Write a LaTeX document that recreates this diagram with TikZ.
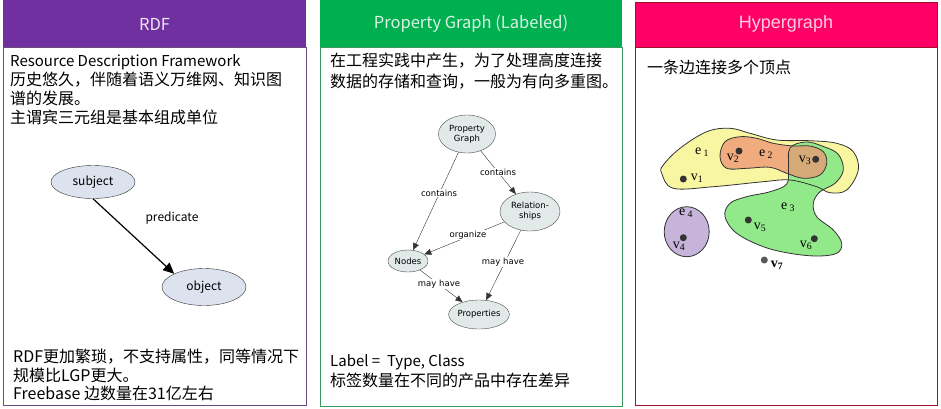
\documentclass[tikz,border=0pt]{standalone}
\usepackage{fontspec}
\setmainfont{Noto Sans CJK SC}
\newfontfamily\graphfont{DejaVu Sans}
\newfontfamily\timesfont{Liberation Serif}
\newfontfamily\arialfont{Liberation Sans}
\usetikzlibrary{shapes.geometric, arrows.meta, positioning}

\definecolor{rdfpurple}{HTML}{7030A0}
\definecolor{rdfborder}{HTML}{6A4C80}
\definecolor{lpggreen}{HTML}{00B050}
\definecolor{lpgborder}{HTML}{3A9A60}
\definecolor{hyppink}{HTML}{FF0066}
\definecolor{hypborder}{HTML}{A0102A}
\definecolor{ellfill}{HTML}{DCE3EF}
\definecolor{pgfill}{HTML}{E2E9E9}
\definecolor{eone}{HTML}{F9F6A2}
\definecolor{etwo}{HTML}{EE9474}
\definecolor{ethree}{HTML}{92E98A}
\definecolor{efour}{HTML}{C6B4DA}

\tikzset{
  body/.style={font=\fontsize{16}{19}\selectfont, anchor=base west, inner sep=0pt},
  title/.style={font=\fontsize{16.5}{20}\selectfont},
  rdfnode/.style={ellipse, draw=black!80, fill=ellfill, minimum width=84pt,
    minimum height=33pt, inner sep=0pt, font=\fontsize{12}{14}\selectfont},
  pgnode/.style={ellipse, draw=black!70, fill=pgfill, inner sep=0pt,
    font=\graphfont\fontsize{8.5}{10}\selectfont, align=center},
  pgedge/.style={draw=black!80, -{Triangle[length=7pt,width=6pt]}},
  pglabel/.style={fill=white, inner sep=0.5pt, font=\graphfont\fontsize{8.5}{10}\selectfont},
  hedge/.style={draw=black!80, line width=0.8pt},
  vdot/.style={circle, fill=black!80, inner sep=0pt, minimum size=7pt},
  hlabel/.style={font=\timesfont\fontsize{14}{15}\selectfont, inner sep=0pt}
}

\begin{document}
\begin{tikzpicture}[x=1pt, y=-1pt]
    \useasboundingbox (0,0) rectangle (941,408);

    % Panel frames
    \draw[rdfborder, line width=0.9pt] (3,47) rectangle (306,405);
    \fill[rdfpurple] (3,0) rectangle (306,47);
    \draw[lpgborder, line width=0.9pt] (320,47) rectangle (622,406);
    \fill[lpggreen] (320,0) rectangle (622,47);
    \draw[hypborder, line width=0.9pt] (635,47) rectangle (937,405);
    \filldraw[fill=hyppink, draw=hypborder, line width=0.9pt] (635,2) rectangle (937,47);

    % Titles
    \node[title, text=white!88!rdfpurple] (rdftitle) at (154.5,24) {RDF};
    \node[title, text=white!85!lpggreen] (lpgtitle) at (471,24) {Property Graph (Labeled)};
    \node[font=\arialfont\fontsize{18}{20}\selectfont, text=white!80!hyppink] (hyptitle) at (786,24) {Hypergraph};

    % RDF text
    \node[body, font=\fontsize{15}{18}\selectfont] (rdfa) at (10,66) {Resource Description Framework};
    \node[body] (rdfb) at (10,85.5) {历史悠久，伴随着语义万维网、知识图};
    \node[body] (rdfc) at (10,104.5) {谱的发展。};
    \node[body] (rdfd) at (10,123.5) {主谓宾三元组是基本组成单位};
    \node[body] (rdfe) at (13,362) {RDF更加繁琐，不支持属性，同等情况下};
    \node[body] (rdff) at (13,381) {规模比LGP更大。};
    \node[body] (rdfg) at (13,399.5) {Freebase 边数量在31亿左右};

    % RDF triple
    \node[rdfnode] (subject) at (93,182) {subject};
    \node[rdfnode, minimum height=37pt] (object) at (204,287) {object};
    \draw[-{Triangle[length=11pt,width=10pt]}, line width=1.2pt] (subject.south) -- (object.north west);
    \node[font=\fontsize{12}{14}\selectfont] (predicate) at (172,218) {predicate};

    % LPG text
    \node[body] (lpga) at (330,66.5) {在工程实践中产生，为了处理高度连接};
    \node[body] (lpgb) at (330,87.5) {数据的存储和查询，一般为有向多重图。};
    \node[body, font=\fontsize{15}{18}\selectfont] (lpgc) at (330,366.5) {Label =~ Type, Class};
    \node[body] (lpgd) at (330,386) {标签数量在不同的产品中存在差异};

    % Property graph schema
    \node[pgnode, minimum width=57pt, minimum height=38pt] (pg) at (467,134) {Property\\Graph};
    \node[pgnode, minimum width=60pt, minimum height=39pt] (rel) at (530,211.5) {Relation-\\ships};
    \node[pgnode, minimum width=40pt, minimum height=22pt] (nodes) at (408,261) {Nodes};
    \node[pgnode, minimum width=58pt, minimum height=29pt] (props) at (479,314.5) {Properties};

    \draw[pgedge] (pg) -- (nodes);
    \draw[pgedge] (pg) -- (rel);
    \draw[pgedge] (rel) -- (nodes);
    \draw[pgedge] (rel) -- (props);
    \draw[pgedge] (nodes) -- (props);

    \node[pglabel] (conta) at (439,193) {contains};
    \node[pglabel] (contb) at (498,172) {contains};
    \node[pglabel] (org) at (468,235) {organize};
    \node[pglabel] (mayrel) at (503,262) {may have};
    \node[pglabel] (maynode) at (439,284) {may have};

    % Hypergraph text
    \node[body] (hypa) at (647,73.5) {一条边连接多个顶点};

    % Hyperedges (fills first, outlines after)
    \def\eonepath{plot[smooth cycle, tension=0.6] coordinates {(661.7,173.3) (673.3,188.3) (713.3,186.7) (763.3,181.7) (790,180) (816.7,186.7) (830,192.7) (846.7,190) (858.3,170) (853.3,151.7) (836.7,143.3) (810,140.7) (776.7,140) (750,133.3) (730,128.3) (706.7,131.7) (680,148.3) (663.3,165)}}
    \def\ethreepath{plot[smooth cycle, tension=0.6] coordinates {(790,148) (806,142) (822,146) (838,154) (843.3,170) (835,183.3) (820,191.7) (813.3,203.3) (816.7,216.7) (833.3,230) (841.7,243.3) (836.7,253.3) (816.7,256) (790,253.3) (763.3,246.7) (736.7,233.3) (725,216.7) (730,203.3) (746.7,196.7) (770,191.7) (786.7,184) (788.5,168)}}
    \def\etwopath{plot[smooth cycle, tension=0.6] coordinates {(720,156.7) (725,141.7) (740,136.7) (756.7,138.3) (773.3,143.3) (793.3,146) (810,146) (823.3,151.7) (826.7,163.3) (820,175) (803.3,178.3) (786.7,173.3) (770,167.3) (746.7,168.3) (726.7,168.3)}}

    \fill[eone] \eonepath;
    \fill[ethree] \ethreepath;
    \fill[etwo, opacity=0.75] \etwopath;
    \draw[hedge] \eonepath;
    \draw[hedge] \ethreepath;
    \draw[hedge] \etwopath;
    \filldraw[fill=efour, hedge] (686.7,231.7) ellipse (22.5 and 25);

    % Vertices
    \node[vdot] (v1) at (683.3,179) {};
    \node[vdot] (v2) at (739,151) {};
    \node[vdot] (v3) at (815.7,159.3) {};
    \node[vdot] (v4) at (683.3,237.7) {};
    \node[vdot] (v5) at (748.3,220) {};
    \node[vdot] (v6) at (814.3,238.7) {};
    \node[vdot, fill=black!65] (v7) at (764.3,260) {};

    % Labels
    \node[hlabel] (le1) at (702,152) {e\,\textsubscript{1}};
    \node[hlabel] (le2) at (766,154) {e\,\textsubscript{2}};
    \node[hlabel] (le3) at (788,207) {e\,\textsubscript{3}};
    \node[hlabel] (le4) at (686,213) {e\,\textsubscript{4}};
    \node[hlabel] (lv1) at (697,178) {v\textsubscript{1}};
    \node[hlabel] (lv2) at (733,158) {v\textsubscript{2}};
    \node[hlabel] (lv3) at (805,160) {v\textsubscript{3}};
    \node[hlabel] (lv4) at (679,246) {v\textsubscript{4}};
    \node[hlabel] (lv5) at (760,227) {v\textsubscript{5}};
    \node[hlabel] (lv6) at (806,245) {v\textsubscript{6}};
    \node[hlabel, font=\timesfont\bfseries\fontsize{14}{15}\selectfont] (lv7) at (777,265) {v\textsubscript{7}};
\end{tikzpicture}
\end{document}
